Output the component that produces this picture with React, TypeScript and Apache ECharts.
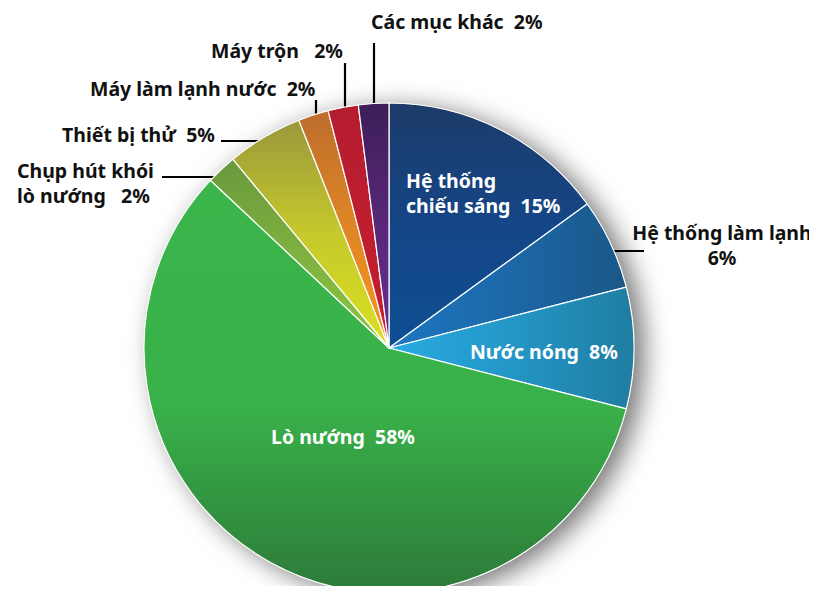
import React, { useEffect, useRef } from "react";
import * as echarts from "echarts";

const categories = [
  "Hệ thống\nchiếu sáng",
  "Hệ thống làm lạnh",
  "Nước nóng",
  "Lò nướng",
  "Chụp hút khói\nlò nướng",
  "Thiết bị thử",
  "Máy làm lạnh nước",
  "Máy trộn",
  "Các mục khác",
];
const values = [15, 6, 8, 58, 2, 5, 2, 2, 2];
const labelSeparators = ["  ", "\n", "  ", "  ", "   ", "  ", "  ", "   ", "  "];
const insideLabel = [true, false, true, true, false, false, false, false, false];

// gradient stops: [from, mid, to, direction]
const gradients: [string, string, string, "v" | "h"][] = [
  ["#1c3b69", "#154687", "#0e4f93", "v"],
  ["#1d77c0", "#1c68a8", "#1a5787", "h"],
  ["#28abe2", "#2496c6", "#1f7da1", "h"],
  ["#3bb64b", "#39b149", "#2d7a39", "v"],
  ["#6a983d", "#7eb13f", "#8fc740", "v"],
  ["#9a983b", "#c6c92c", "#dbe120", "v"],
  ["#bd6e2c", "#e08626", "#f7951d", "v"],
  ["#b51c30", "#bf1e2f", "#c21f2e", "v"],
  ["#3d1e58", "#582878", "#682d93", "v"],
];

// label placement: [x, y, align]
const labelPos: [number, number, string][] = [
  [406, 193, "left"],
  [722, 245, "center"],
  [470, 351, "left"],
  [271, 436, "left"],
  [17, 183, "left"],
  [62, 134, "left"],
  [90, 88, "left"],
  [211, 50, "left"],
  [371, 21, "left"],
];
const leaderLines: number[][][] = [
  [],
  [[589, 251], [616, 251], [644, 251]],
  [],
  [],
  [[227, 177], [195, 177], [162, 177]],
  [[276, 141], [249, 141], [221, 141]],
  [[316, 139], [316, 120], [316, 100]],
  [[345, 122], [345, 92], [345, 63]],
  [[374, 113], [374, 78], [374, 43]],
];

export default function App() {
  const ref = useRef<HTMLDivElement>(null);
  useEffect(() => {
    if (!ref.current) return;
    const chart = echarts.init(ref.current, null, { renderer: "svg" });
    const data = categories.map((name, i) => {
      const [c0, cm, c1, dir] = gradients[i];
      const stops = [
        { offset: 0, color: c0 },
        { offset: i === 3 ? 0.55 : 0.5, color: cm },
        { offset: 1, color: c1 },
      ];
      const grad =
        dir === "v"
          ? new echarts.graphic.LinearGradient(0, 0, 0, 1, stops)
          : new echarts.graphic.LinearGradient(0, 0, 1, 0, stops);
      return {
        name,
        value: values[i],
        itemStyle: { color: grad },
        label: {
          color: insideLabel[i] ? "#ffffff" : "#111111",
          align: labelPos[i][2],
        },
        labelLine: { show: !insideLabel[i] },
      };
    });
    chart.setOption({
      animation: false,
      backgroundColor: "#ffffff",
      series: [
        {
          type: "pie",
          silent: true,
          center: [389, 348],
          radius: [0, 245],
          z: 1,
          label: { show: false },
          labelLine: { show: false },
          itemStyle: {
            color: "#ffffff",
            shadowBlur: 26,
            shadowOffsetX: 10,
            shadowOffsetY: 5,
            shadowColor: "rgba(0,0,0,0.55)",
          },
          data: [{ value: 1 }],
        },
        {
          type: "pie",
          z: 2,
          center: [389, 348],
          radius: [0, 245],
          startAngle: 90,
          clockwise: true,
          avoidLabelOverlap: false,
          itemStyle: { borderColor: "#ffffff", borderWidth: 1.2 },
          label: {
            show: true,
            position: "outside",
            fontFamily: "Noto Sans",
            fontWeight: "bold",
            fontSize: 19.5,
            lineHeight: 25,
            formatter: (p: any) =>
              p.name + labelSeparators[p.dataIndex] + p.value + "%",
          },
          labelLine: {
            show: true,
            lineStyle: { color: "#000000", width: 2.2 },
          },
          labelLayout: (p: any) => {
            const i = p.dataIndex;
            const res: any = {
              x: labelPos[i][0],
              y: labelPos[i][1],
              align: labelPos[i][2],
              verticalAlign: "middle",
            };
            if (leaderLines[i].length) res.labelLinePoints = leaderLines[i];
            return res;
          },
          data,
        },
      ],
    });
    return () => chart.dispose();
  }, []);
  return <div ref={ref} style={{ width: 817, height: 594, margin: -8 }} />;
}
